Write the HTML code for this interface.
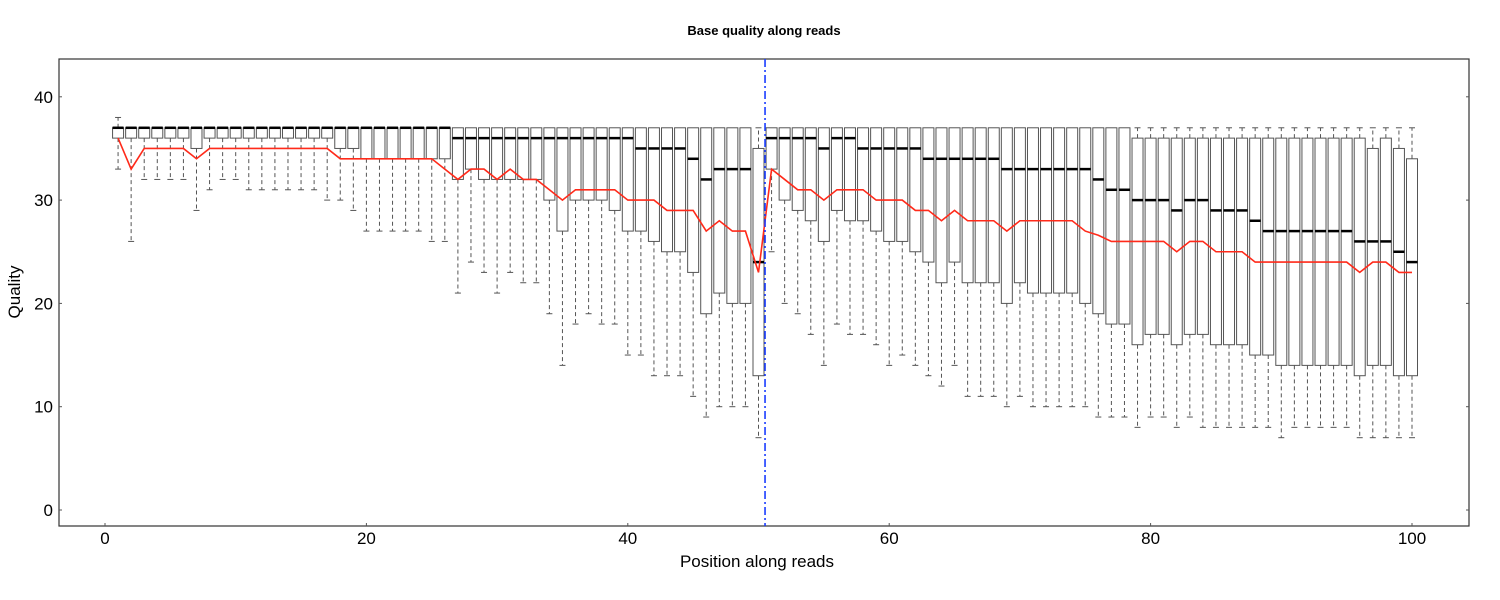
<!DOCTYPE html>
<html><head><meta charset="utf-8"><style>
body{margin:0;background:#fff;}
svg{display:block;font-family:"Liberation Sans",sans-serif;}
</style></head><body>
<svg id="chart" width="1500" height="600" viewBox="0 0 1500 600">
<text x="764" y="35" text-anchor="middle" font-size="13" font-weight="bold">Base quality along reads</text>
<text x="757" y="567" text-anchor="middle" font-size="17">Position along reads</text>
<text x="20" y="292" text-anchor="middle" font-size="17" transform="rotate(-90 20 292)">Quality</text>
<g id="plot"></g>
</svg>
<script>
const positions = Array.from({length:100},(_,i)=>i+1);
const whiskerLow = [33,26,32,32,32,32,29,31,32,32,31,31,31,31,31,31,30,30,29,27,27,27,27,27,26,26,21,24,23,21,23,22,22,19,14,18,19,18,18,15,15,13,13,13,11,9,10,10,10,7,25,20,19,17,14,18,17,17,16,14,15,14,13,12,14,11,11,11,10,11,10,10,10,10,10,9,9,9,8,9,9,8,9,8,8,8,8,8,8,7,8,8,8,8,8,7,7,7,7,7];
const q1 = [36,36,36,36,36,36,35,36,36,36,36,36,36,36,36,36,36,35,35,34,34,34,34,34,34,34,32,33,32,32,32,32,32,30,27,30,30,30,29,27,27,26,25,25,23,19,21,20,20,13,33,30,29,28,26,29,28,28,27,26,26,25,24,22,24,22,22,22,20,22,21,21,21,21,20,19,18,18,16,17,17,16,17,17,16,16,16,15,15,14,14,14,14,14,14,13,14,14,13,13];
const medians = [37,37,37,37,37,37,37,37,37,37,37,37,37,37,37,37,37,37,37,37,37,37,37,37,37,37,36,36,36,36,36,36,36,36,36,36,36,36,36,36,35,35,35,35,34,32,33,33,33,24,36,36,36,36,35,36,36,35,35,35,35,35,34,34,34,34,34,34,33,33,33,33,33,33,33,32,31,31,30,30,30,29,30,30,29,29,29,28,27,27,27,27,27,27,27,26,26,26,25,24];
const q3 = [37,37,37,37,37,37,37,37,37,37,37,37,37,37,37,37,37,37,37,37,37,37,37,37,37,37,37,37,37,37,37,37,37,37,37,37,37,37,37,37,37,37,37,37,37,37,37,37,37,35,37,37,37,37,37,37,37,37,37,37,37,37,37,37,37,37,37,37,37,37,37,37,37,37,37,37,37,37,36,36,36,36,36,36,36,36,36,36,36,36,36,36,36,36,36,36,35,36,35,34];
const whiskerHigh = [38,37,37,37,37,37,37,37,37,37,37,37,37,37,37,37,37,37,37,37,37,37,37,37,37,37,37,37,37,37,37,37,37,37,37,37,37,37,37,37,37,37,37,37,37,37,37,37,37,37,37,37,37,37,37,37,37,37,37,37,37,37,37,37,37,37,37,37,37,37,37,37,37,37,37,37,37,37,37,37,37,37,37,37,37,37,37,37,37,37,37,37,37,37,37,37,37,37,37,37];
const means = [36,33,35,35,35,35,34,35,35,35,35,35,35,35,35,35,35,34,34,34,34,34,34,34,34,33,32,33,33,32,33,32,32,31,30,31,31,31,31,30,30,30,29,29,29,27,28,27,27,23,33,32,31,31,30,31,31,31,30,30,30,29,29,28,29,28,28,28,27,28,28,28,28,28,27,26.6,26,26,26,26,26,25,26,26,25,25,25,24,24,24,24,24,24,24,24,23,24,24,23,23];
const xTicks = [0,20,40,60,80,100];
const yTicks = [0,10,20,30,40];
const cutoff = 50.5;

const NS="http://www.w3.org/2000/svg";
const g=document.getElementById('plot');
const X0=59,X1=1469,Y0=59,Y1=526;
const xs=v=>105+v*13.07;
const ys=v=>510-v*10.33;
function mk(tag,attrs,parent){const e=document.createElementNS(NS,tag);for(const k in attrs)e.setAttribute(k,attrs[k]);(parent||g).appendChild(e);return e;}

const frame=mk('rect',{x:X0,y:Y0,width:X1-X0,height:Y1-Y0,fill:'none',stroke:'#333','stroke-width':1.2});



xTicks.forEach(t=>{
  const tk=mk('line',{x1:xs(t),x2:xs(t),y1:Y1,y2:Y1-3,stroke:'#555'});
  
  
  const tl=mk('text',{x:xs(t),y:Y1+18,'text-anchor':'middle','font-size':17});
  tl.textContent=t;
  
  
});
yTicks.forEach(t=>{
  const tk=mk('line',{x1:X0,x2:X0+3,y1:ys(t),y2:ys(t),stroke:'#555'});
  
  
  const tk2=mk('line',{x1:X1,x2:X1-3,y1:ys(t),y2:ys(t),stroke:'#555'});
  
  
  const tl=mk('text',{x:X0-6,y:ys(t)+6,'text-anchor':'end','font-size':17});
  tl.textContent=t;
  
  
});

const hw=5.5;
positions.forEach((p,i)=>{
  const bx=mk('g',{});
  
  
  const cx=xs(p);
  if(whiskerLow[i]<q1[i]){
    mk('line',{x1:cx,x2:cx,y1:ys(q1[i]),y2:ys(whiskerLow[i]),stroke:'#555','stroke-dasharray':'4,3'},bx);
    mk('line',{x1:cx-3,x2:cx+3,y1:ys(whiskerLow[i]),y2:ys(whiskerLow[i]),stroke:'#555'},bx);
  }
  if(whiskerHigh[i]>q3[i]){
    mk('line',{x1:cx,x2:cx,y1:ys(q3[i]),y2:ys(whiskerHigh[i]),stroke:'#555','stroke-dasharray':'4,3'},bx);
    mk('line',{x1:cx-3,x2:cx+3,y1:ys(whiskerHigh[i]),y2:ys(whiskerHigh[i]),stroke:'#555'},bx);
  }
  mk('rect',{x:cx-hw,y:ys(q3[i]),width:2*hw,height:ys(q1[i])-ys(q3[i]),fill:'#fff',stroke:'#555','stroke-width':1},bx);
  mk('line',{x1:cx-hw,x2:cx+hw,y1:ys(medians[i]),y2:ys(medians[i]),stroke:'#000','stroke-width':2.5},bx);
});

const pts=positions.map((p,i)=>xs(p)+','+ys(means[i])).join(' ');
const ml=mk('polyline',{points:pts,fill:'none',stroke:'#ff2a1a','stroke-width':1.6});



const cl=mk('line',{x1:xs(cutoff),x2:xs(cutoff),y1:Y0,y2:Y1,stroke:'#1a3cff','stroke-width':1.6,'stroke-dasharray':'8,3,2,3'});


</script>
</body></html>
